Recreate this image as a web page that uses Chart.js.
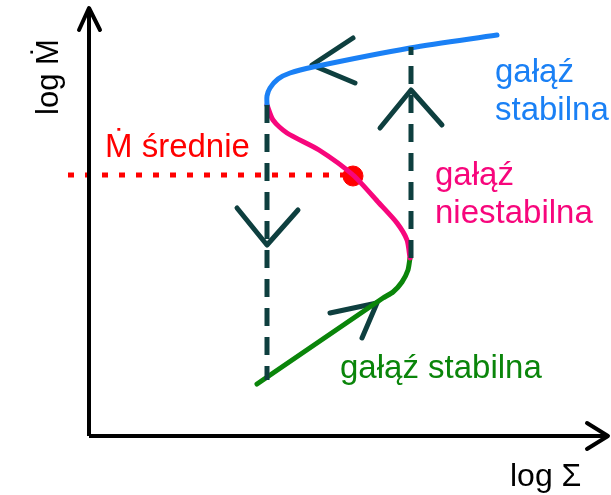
<!DOCTYPE html>
<html>
<head>
<meta charset="utf-8">
<script src="https://cdn.jsdelivr.net/npm/chart.js@4.4.0/dist/chart.umd.min.js"></script>
<style>
  body { margin: 0; background: #fff; }
  canvas { display: block; }
</style>
</head>
<body>
<canvas id="chart" width="611" height="495"></canvas>
<script>
// S-curve of a disk: log Sigma (x) against log Mdot (y), arbitrary units
const upperBranch = [
    {x: 40.8, y: 40.1}, {x: 32.1, y: 38.8}, {x: 22.4, y: 36.9}, {x: 20.1, y: 36.3},
    {x: 18.9, y: 35.7}, {x: 18.1, y: 34.8}, {x: 17.8, y: 34.0}, {x: 17.8, y: 33.1}
];
const middleBranch = [
    {x: 17.8, y: 33.1}, {x: 18.4, y: 31.6}, {x: 19.8, y: 30.3}, {x: 23.0, y: 28.6},
    {x: 26.4, y: 26.1}, {x: 29.0, y: 23.3}, {x: 30.8, y: 21.3}, {x: 31.8, y: 19.6},
    {x: 32.1, y: 17.8}
];
const lowerBranch = [
    {x: 32.1, y: 17.8}, {x: 31.9, y: 16.6}, {x: 31.3, y: 15.4}, {x: 30.4, y: 14.4},
    {x: 29.4, y: 13.8}, {x: 16.8, y: 5.2}
];

// jumps between branches
const jumpDown = [{x: 17.8, y: 33.1}, {x: 17.8, y: 5.6}];
const jumpUp = [{x: 32.2, y: 17.8}, {x: 32.2, y: 38.9}];

// chevrons showing direction of the cycle
const arrowUpper = [{x: 26.4, y: 39.8}, {x: 22.3, y: 37.1}, {x: 26.6, y: 35.3}];
const arrowJumpUp = [{x: 29.1, y: 30.8}, {x: 32.2, y: 34.6}, {x: 35.3, y: 31.1}];
const arrowJumpDown = [{x: 14.8, y: 22.8}, {x: 17.8, y: 19.1}, {x: 20.9, y: 22.6}];
const arrowLower = [{x: 24.1, y: 12.3}, {x: 28.8, y: 13.3}, {x: 27.3, y: 9.8}];

// mean accretion rate
const meanLevel = [{x: -2.1, y: 26.1}, {x: 25.6, y: 26.1}];
const meanPoint = [{x: 26.4, y: 26.0}];

// axes
const yAxisLine = [{x: 0, y: 0}, {x: 0, y: 42.8}];
const yAxisHead = [{x: -1.0, y: 40.6}, {x: 0, y: 42.8}, {x: 1.1, y: 40.6}];
const xAxisLine = [{x: 0, y: 0}, {x: 51.9, y: 0}];
const xAxisHead = [{x: 49.8, y: 1.3}, {x: 51.9, y: 0}, {x: 49.8, y: -1.3}];

const labels = [
    {text: "log Ṁ", x: -3.1, y: 32.1, color: "#000", rotate: true, size: 31},
    {text: "log Σ", x: 42.1, y: -5.0, color: "#000", size: 32},
    {text: "Ṁ średnie", x: 1.6, y: 27.9, color: "#ff0000", size: 33},
    {text: "gałąź", x: 40.6, y: 35.4, color: "#1a80f5", size: 33},
    {text: "stabilna", x: 40.6, y: 31.6, color: "#1a80f5", size: 33},
    {text: "gałąź", x: 34.6, y: 25.1, color: "#f7067c", size: 33},
    {text: "niestabilna", x: 34.6, y: 21.3, color: "#f7067c", size: 33},
    {text: "gałąź stabilna", x: 25.1, y: 5.8, color: "#0a850a", size: 33}
];

const dark = "#0e3f3f";

const line = (data, color, width, extra) => Object.assign({
    data: data,
    showLine: true,
    borderColor: color,
    backgroundColor: color,
    borderWidth: width,
    pointRadius: 0,
    fill: false,
    tension: 0,
    borderCapStyle: "round",
    borderJoinStyle: "round"
}, extra || {});

const textPlugin = {
    id: "diagramText",
    afterDatasetsDraw(chart) {
        const ctx = chart.ctx;
        const xs = chart.scales.x;
        const ys = chart.scales.y;
        ctx.save();
        ctx.textAlign = "left";
        ctx.textBaseline = "alphabetic";
        for (let l of labels) {
            const px = xs.getPixelForValue(l.x);
            const py = ys.getPixelForValue(l.y);
            ctx.font = l.size + 'px "Liberation Sans", Arial, sans-serif';
            ctx.fillStyle = l.color;
            if (l.rotate) {
                ctx.save();
                ctx.translate(px, py);
                ctx.rotate(-Math.PI / 2);
                ctx.fillText(l.text, 0, 0);
                ctx.restore();
            } else {
                ctx.fillText(l.text, px, py);
            }
        }
        ctx.restore();
    }
};

new Chart(document.getElementById("chart"), {
    type: "scatter",
    data: {
        datasets: [
            line(yAxisLine, "#000", 4, {borderCapStyle: "butt"}),
            line(yAxisHead, "#000", 4),
            line(xAxisLine, "#000", 4, {borderCapStyle: "butt"}),
            line(xAxisHead, "#000", 4),
            line(jumpDown, dark, 5, {borderDash: [18, 11], borderCapStyle: "butt"}),
            line(jumpUp, dark, 5, {borderDash: [18, 11], borderCapStyle: "butt"}),
            line(meanLevel, "#ff0000", 5, {borderDash: [6, 11], borderCapStyle: "butt"}),
            line(upperBranch, "#1a80f5", 5, {tension: 0.3}),
            line(middleBranch, "#f7067c", 5, {tension: 0.25}),
            line(lowerBranch, "#0a850a", 5, {tension: 0.2}),
            line(arrowUpper, dark, 5),
            line(arrowJumpUp, dark, 5),
            line(arrowJumpDown, dark, 5),
            line(arrowLower, dark, 5),
            {
                data: meanPoint,
                pointRadius: 10,
                pointBackgroundColor: "#ff0000",
                pointBorderColor: "#ff0000",
                showLine: false
            }
        ]
    },
    options: {
        responsive: false,
        animation: false,
        layout: {padding: 0, autoPadding: false},
        plugins: {
            legend: {display: false},
            tooltip: {enabled: false}
        },
        scales: {
            x: {type: "linear", display: false, min: -8.9, max: 52.2},
            y: {type: "linear", display: false, min: -5.9, max: 43.6}
        }
    },
    plugins: [textPlugin]
});
</script>
</body>
</html>
